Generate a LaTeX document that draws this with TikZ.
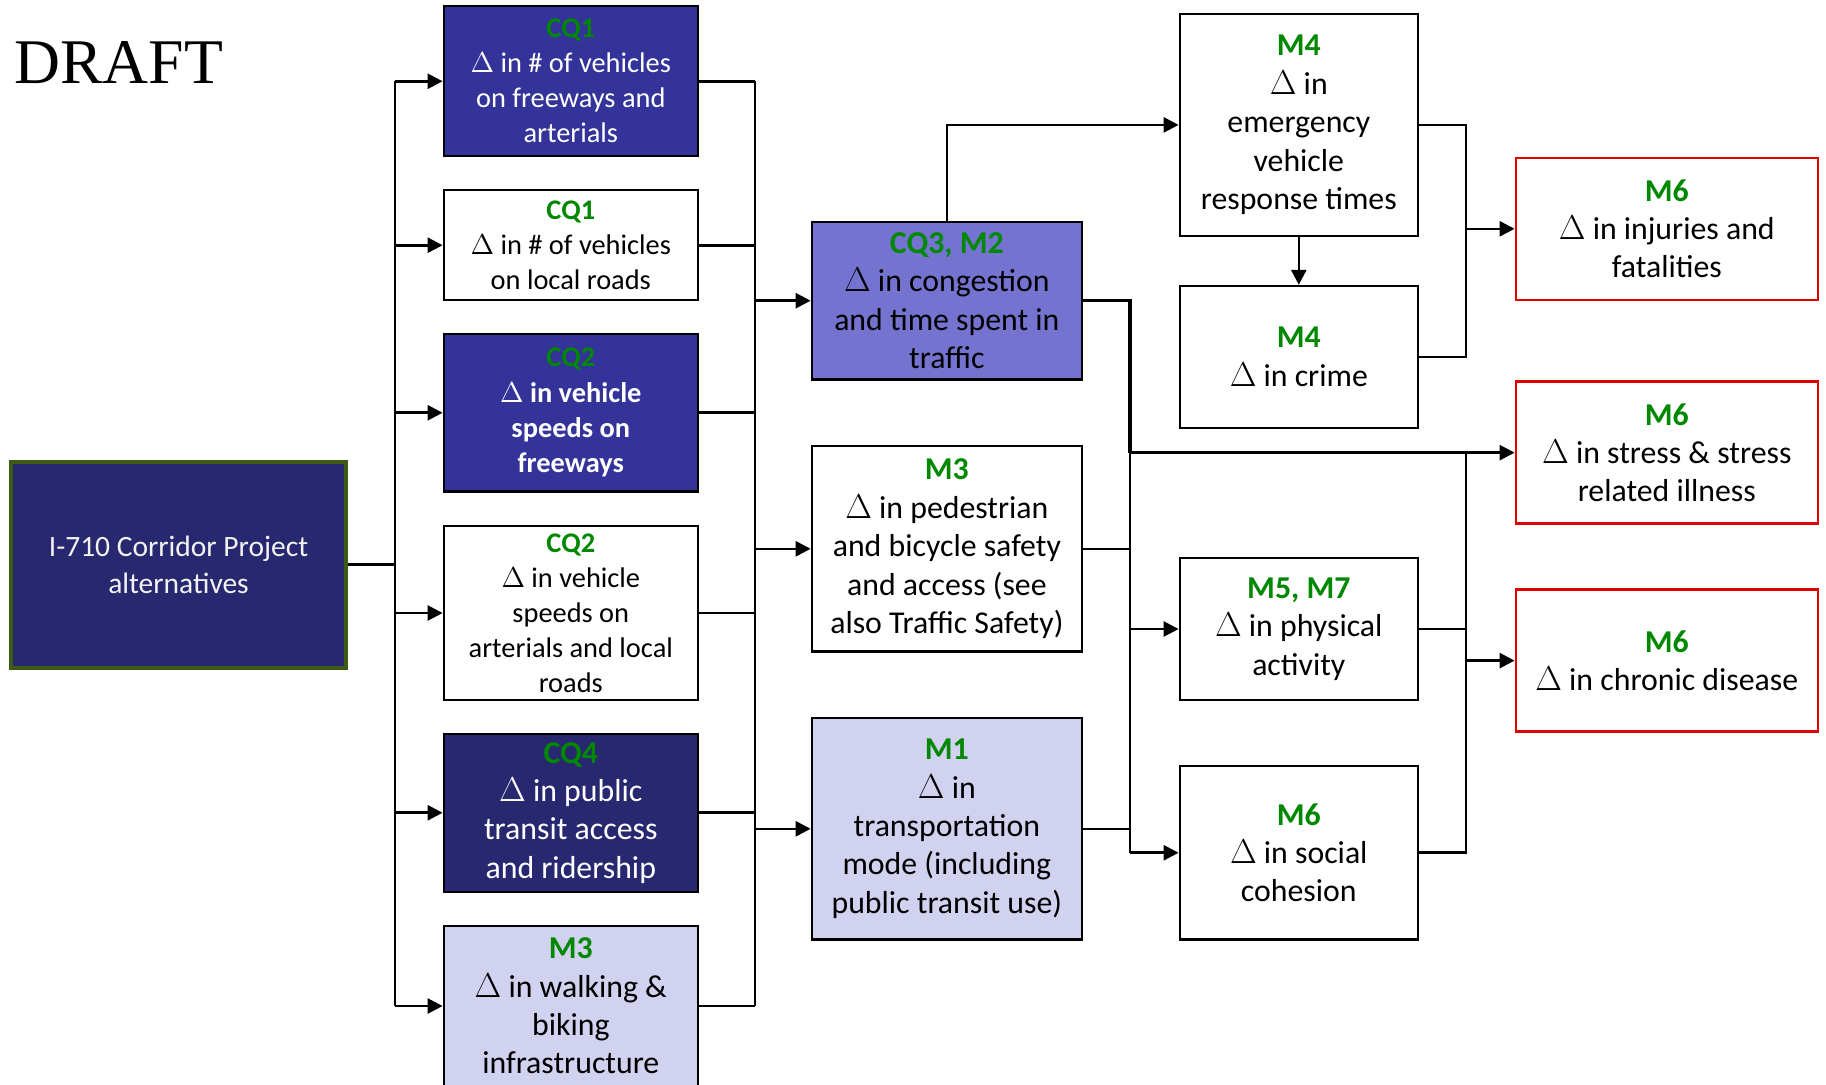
\documentclass[tikz,border=0pt]{standalone}
\usepackage{fontspec}
\setmainfont{Carlito}
\newfontfamily\draftfont{Liberation Serif}
\usetikzlibrary{arrows.meta}
\definecolor{cqgreen}{RGB}{0,136,0}
\definecolor{navyA}{RGB}{51,51,153}
\definecolor{navyB}{RGB}{40,40,112}
\definecolor{midblue}{RGB}{116,116,208}
\definecolor{lightlav}{RGB}{209,209,240}
\definecolor{redline}{RGB}{224,0,0}
\definecolor{mainborder}{RGB}{60,90,20}
\definecolor{offwhite}{RGB}{242,242,242}
\newcommand{\lab}[1]{\textcolor{cqgreen}{\textbf{#1}}}
\tikzset{
  box/.style={draw=black, line width=1.2pt, inner sep=0pt, align=center, text=black},
  smalltext/.style={font=\fontsize{14.2}{17.5}\selectfont},
  bigtext/.style={font=\fontsize{15.9}{19.2}\selectfont},
  leftcol/.style={box, smalltext, minimum width=127pt},
  midcol/.style={box, bigtext, minimum width=135pt},
  rmcol/.style={box, bigtext, minimum width=119pt},
  redbox/.style={box, bigtext, draw=redline, minimum width=151pt, minimum height=71pt},
  conn/.style={line width=1.3pt, line join=miter},
  thick conn/.style={line width=1.7pt, line join=miter},
  arr/.style={conn, -{Triangle[length=7.5pt,width=7.5pt]}},
}
\begin{document}
\begin{tikzpicture}[x=0.5pt,y=-0.5pt]
\useasboundingbox (0,0) rectangle (1826,1084);
\clip (0,0) rectangle (1826,1084);

\node[anchor=base west, inner sep=0pt, font=\draftfont\fontsize{31.8}{36}\selectfont] (draft) at (14,83) {DRAFT};

% main box
\node[box, draw=mainborder, line width=2pt, fill=navyB, text=offwhite, font=\fontsize{14.75}{18.5}\selectfont,
      minimum width=167.5pt, minimum height=103.25pt] (main) at (178.5,564.75)
      {I-710 Corridor Project\\alternatives};

% left column
\node[leftcol, fill=navyA, text=white, minimum height=75pt] (cq1a) at (570.8,81.25)
  {\lab{CQ1}\\$\Delta$ in \# of vehicles\\on freeways and\\arterials};
\node[leftcol, minimum height=55pt] (cq1b) at (570.8,245.2)
  {\lab{CQ1}\\$\Delta$ in \# of vehicles\\on local roads};
\node[leftcol, fill=navyA, text=white, minimum height=78.6pt, font=\fontsize{14.2}{17.7}\selectfont\bfseries] (cq2a) at (570.8,412.75)
  {\lab{CQ2}\\$\Delta$ in vehicle\\speeds on\\freeways};
\node[leftcol, minimum height=86.8pt] (cq2b) at (570.8,613)
  {\lab{CQ2}\\$\Delta$ in vehicle\\speeds on\\arterials and local\\roads};
\node[leftcol, bigtext, fill=navyB, text=white, minimum height=79pt] (cq4) at (570.8,812.75)
  {\lab{CQ4}\\$\Delta$ in public\\transit access\\and ridership};
\node[leftcol, bigtext, fill=lightlav, minimum height=80pt] (m3w) at (570.8,1006)
  {\lab{M3}\\$\Delta$ in walking \&\\biking\\infrastructure};

% middle column
\node[midcol, fill=midblue, minimum height=78.8pt] (cq3) at (946.85,300.7)
  {\lab{CQ3, M2}\\$\Delta$ in congestion\\and time spent in\\traffic};
\node[midcol, minimum height=102.6pt] (m3p) at (946.85,548.8)
  {\lab{M3}\\$\Delta$ in pedestrian\\and bicycle safety\\and access (see\\also Traffic Safety)};
\node[midcol, fill=lightlav, minimum height=110.6pt] (m1) at (946.85,828.8)
  {\lab{M1}\\$\Delta$ in\\transportation\\mode (including\\public transit use)};

% right-middle column
\node[rmcol, minimum height=110.9pt] (m4e) at (1298.8,124.9)
  {\lab{M4}\\$\Delta$ in\\emergency\\vehicle\\response times};
\node[rmcol, minimum height=70.9pt] (m4c) at (1298.8,356.9)
  {\lab{M4}\\$\Delta$ in crime};
\node[rmcol, minimum height=70.8pt] (m57) at (1298.8,629)
  {\lab{M5, M7}\\$\Delta$ in physical\\activity};
\node[rmcol, minimum height=86.6pt] (m6s) at (1298.8,852.75)
  {\lab{M6}\\$\Delta$ in social\\cohesion};

% right column
\node[redbox] (m6i) at (1666.8,228.8) {\lab{M6}\\$\Delta$ in injuries and\\fatalities};
\node[redbox] (m6st) at (1666.8,452.65) {\lab{M6}\\$\Delta$ in stress \& stress\\related illness};
\node[redbox] (m6c) at (1666.8,660.6) {\lab{M6}\\$\Delta$ in chronic disease};

% left bus
\coordinate (jL) at (395,564.75);
\draw[thick conn] (main.east) -- (jL);
\draw[conn] (jL |- cq1a.west) -- (jL |- m3w.west);
\foreach \n in {cq1a,cq1b,cq2a,cq2b,cq4,m3w}
  \draw[arr] (jL |- \n.west) -- (\n.west);

% right bus of left column
\coordinate (jR) at (755,300.7);
\draw[conn] (jR |- cq1a.east) -- (jR |- m3w.east);
\foreach \n in {cq1a,cq1b,cq2a,cq2b,cq4,m3w}
  \draw[conn] (\n.east) -- (jR |- \n.east);
\foreach \m in {cq3,m3p,m1}
  \draw[arr] (jR |- \m.west) -- (\m.west);

% middle bus
\coordinate (jM) at (1130,300.7);
\draw[thick conn] (cq3.east) -- (jM) -- (jM |- m6st.west);
\draw[conn] (jM |- m6st.west) -- (jM |- m6s.west);
\draw[conn] (m3p.east) -- (jM |- m3p.east);
\draw[conn] (m1.east) -- (jM |- m1.east);
\draw[arr] (jM |- m57.west) -- (m57.west);
\draw[arr] (jM |- m6s.west) -- (m6s.west);
\draw[arr] (jM |- m6st.west) -- (m6st.west);

% top
\draw[arr] (cq3.north) |- (m4e.west);
\draw[arr] (m4e.south) -- (m4c.north);

% upper right bus
\coordinate (jT) at (1466,228.8);
\draw[conn] (m4e.east) -| (jT |- m4c.east) -- (m4c.east);
\draw[arr] (jT) -- (m6i.west);

% lower right bus
\coordinate (jB) at (1466,660.6);
\draw[conn] (jB |- m6st.west) -- (jB |- m6s.east) -- (m6s.east);
\draw[conn] (m57.east) -- (jB |- m57.east);
\draw[arr] (jB) -- (m6c.west);
\end{tikzpicture}
\end{document}
